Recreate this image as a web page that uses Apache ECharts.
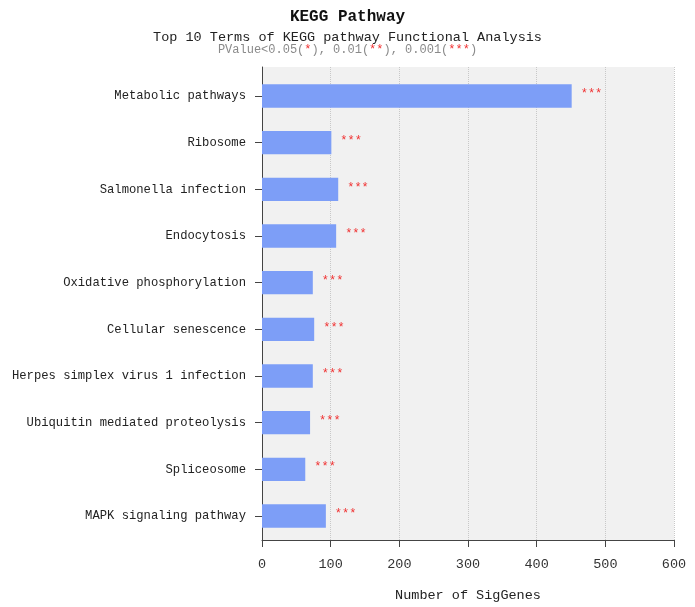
<!DOCTYPE html>
<html>
<head>
<meta charset="utf-8">
<script src="https://cdn.jsdelivr.net/npm/echarts@6/dist/echarts.min.js"></script>
<style>html,body{margin:0;padding:0;background:#fff}#c{width:695px;height:607px}</style>
</head>
<body>
<div id="c"></div>
<script>
var categories = ["Metabolic pathways","Ribosome","Salmonella infection","Endocytosis","Oxidative phosphorylation","Cellular senescence","Herpes simplex virus 1 infection","Ubiquitin mediated proteolysis","Spliceosome","MAPK signaling pathway"];
var sigGenes = [451, 101, 111, 108, 74, 76, 74, 70, 63, 93];
var significance = ["***","***","***","***","***","***","***","***","***","***"];
var xTicks = [0, 100, 200, 300, 400, 500, 600];

var FONT = '"Liberation Mono", "DejaVu Sans Mono", monospace';
var chart = echarts.init(document.getElementById('c'));
chart.setOption({
  animation: false,
  backgroundColor: '#fff',
  title: [{
    text: 'KEGG Pathway',
    left: 'center', top: 9, padding: 0,
    textStyle: {fontFamily: FONT, fontSize: 16, fontWeight: 'bold', color: '#111'}
  }, {
    text: 'Top 10 Terms of KEGG pathway Functional Analysis',
    left: 'center', top: 30, padding: 0,
    textStyle: {fontFamily: FONT, fontSize: 13.5, fontWeight: 'normal', color: '#222'}
  }, {
    text: '{g|PValue<0.05(}{r|*}{g|), 0.01(}{r|**}{g|), 0.001(}{r|***}{g|)}',
    left: 'center', top: 44, padding: 0,
    textStyle: {
      fontFamily: FONT, fontSize: 12, fontWeight: 'normal',
      rich: {
        g: {fontFamily: FONT, fontSize: 12, fontWeight: 'normal', color: '#8a8a8a'},
        r: {fontFamily: FONT, fontSize: 12, fontWeight: 'normal', color: '#f03030'}
      }
    }
  }],
  grid: [
    {left: 262, right: 21, top: 72.7, height: 466.6, containLabel: false},
    {left: 262, right: 21, top: 67, height: 478, show: true, backgroundColor: '#f1f1f1', borderWidth: 0, z: 0}
  ],
  xAxis: [{
    gridIndex: 0, type: 'value', min: xTicks[0], max: xTicks[xTicks.length-1], interval: 100,
    show: false
  }, {
    gridIndex: 1, type: 'value', min: xTicks[0], max: xTicks[xTicks.length-1], interval: 100,
    name: 'Number of SigGenes', nameLocation: 'middle', nameGap: 48,
    nameTextStyle: {fontFamily: FONT, fontSize: 13.5, color: '#222'},
    axisLine: {show: true, lineStyle: {color: '#444', width: 1}},
    axisTick: {show: true, length: 7, lineStyle: {color: '#444'}},
    axisLabel: {fontFamily: FONT, fontSize: 13.5, color: '#333', margin: 17},
    splitLine: {show: true, lineStyle: {color: '#c8c8c8', type: 'dotted', width: 1}}
  }],
  yAxis: [{
    gridIndex: 0, type: 'category', data: categories, inverse: true,
    axisLine: {show: false},
    axisTick: {show: true, alignWithLabel: true, length: 7, lineStyle: {color: '#444'}},
    axisLabel: {fontFamily: FONT, fontSize: 12.2, color: '#222', margin: 16},
    splitLine: {show: false}
  }, {
    gridIndex: 1, type: 'value', min: 0, max: 1,
    axisLine: {show: true, lineStyle: {color: '#444', width: 1}},
    axisTick: {show: false}, axisLabel: {show: false}, splitLine: {show: false}
  }],
  series: [{
    type: 'bar', xAxisIndex: 0, yAxisIndex: 0,
    data: sigGenes, barWidth: '50%',
    itemStyle: {color: '#7d9ef7'},
    label: {
      show: true, position: 'right', distance: 9,
      formatter: function (p) { return significance[p.dataIndex]; },
      fontFamily: FONT, fontSize: 12, color: '#f03030', offset: [0, -2]
    },
    z: 3
  }]
});
</script>
</body>
</html>
